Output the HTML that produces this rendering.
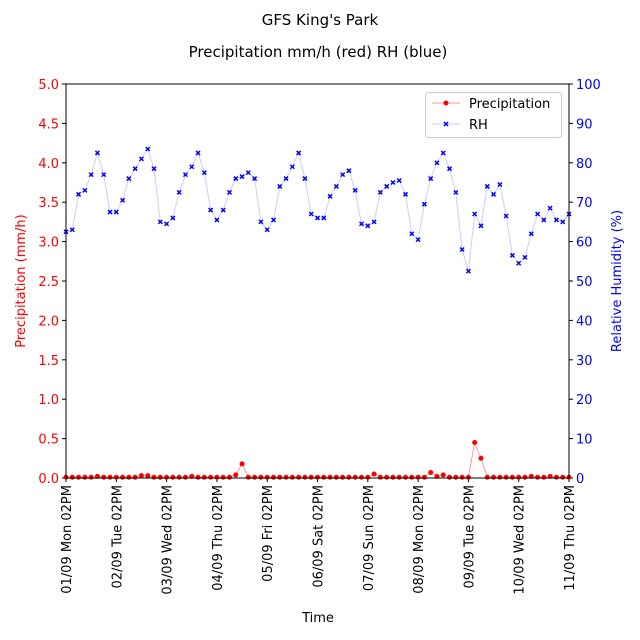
<!DOCTYPE html>
<html><head><meta charset="utf-8"><style>
html,body{margin:0;padding:0;background:#fff;width:640px;height:640px;overflow:hidden;font-family:"Liberation Sans","DejaVu Sans",sans-serif}
svg{display:block}
svg text{font-family:"DejaVu Sans","Liberation Sans",sans-serif}
</style></head><body>
<svg id="c" width="640" height="640" xmlns="http://www.w3.org/2000/svg"></svg>
<script>
const rhValues=[62.5,63,72,73,77,82.5,77,67.5,67.5,70.5,76,78.5,81,83.5,78.5,65,64.5,66,72.5,77,79,82.5,77.5,68,65.5,68,72.5,76,76.5,77.5,76,65,63,65.5,74,76,79,82.5,76,67,66,66,71.5,74,77,78,73,64.5,64,65,72.5,74,75,75.5,72,62,60.5,69.5,76,80,82.5,78.5,72.5,58,52.5,67,64,74,72,74.5,66.5,56.5,54.5,56,62,67,65.5,68.5,65.5,65,67];
const precipValues=[0.01,0.01,0.01,0.01,0.01,0.02,0.01,0.01,0.01,0.01,0.01,0.01,0.03,0.03,0.01,0.01,0.01,0.01,0.01,0.01,0.02,0.01,0.01,0.01,0.01,0.01,0.01,0.04,0.18,0.01,0.01,0.01,0.01,0.01,0.01,0.01,0.01,0.01,0.01,0.01,0.01,0.01,0.01,0.01,0.01,0.01,0.01,0.01,0.01,0.05,0.01,0.01,0.01,0.01,0.01,0.01,0.01,0.01,0.07,0.02,0.04,0.01,0.01,0.01,0.01,0.45,0.25,0.01,0.01,0.01,0.01,0.01,0.01,0.01,0.02,0.01,0.01,0.02,0.01,0.01,0.01];
const xTickLabels=["01/09 Mon 02PM","02/09 Tue 02PM","03/09 Wed 02PM","04/09 Thu 02PM","05/09 Fri 02PM","06/09 Sat 02PM","07/09 Sun 02PM","08/09 Mon 02PM","09/09 Tue 02PM","10/09 Wed 02PM","11/09 Thu 02PM"];
const leftTicks=[0,0.5,1,1.5,2,2.5,3,3.5,4,4.5,5];
const rightTicks=[0,10,20,30,40,50,60,70,80,90,100];
const L=66,R=569,T=84,B=478,N=80;
const svg=document.getElementById('c');const NS='http://www.w3.org/2000/svg';
function el(t,a,txt){const e=document.createElementNS(NS,t);for(const k in a)e.setAttribute(k,a[k]);if(txt!==undefined)e.textContent=txt;svg.appendChild(e);return e;}
const x=i=>L+(R-L)*i/N, yl=v=>B-(B-T)*v/5, yr=v=>B-(B-T)*v/100;
let e;
e=el('text',{x:320,y:25,'text-anchor':'middle','font-size':15},"GFS King's Park");

e=el('text',{x:318,y:57,'text-anchor':'middle','font-size':15},"Precipitation mm/h (red) RH (blue)");

leftTicks.forEach(v=>{const y=yl(v);el('line',{x1:L-4,x2:L,y1:y,y2:y,stroke:'#000'});
 e=el('text',{x:L-7,y:y+5,'text-anchor':'end','font-size':13,fill:'red'},v.toFixed(1));
 });
rightTicks.forEach(v=>{const y=yr(v);el('line',{x1:R,x2:R+4,y1:y,y2:y,stroke:'#000'});
 e=el('text',{x:R+7,y:y+5,'font-size':13,fill:'blue'},v);
 });
xTickLabels.forEach((s,i)=>{const xx=L+(R-L)*i/10;el('line',{x1:xx,x2:xx,y1:B,y2:B+4,stroke:'#000'});
 e=el('text',{transform:`translate(${xx+5},${B+7}) rotate(-90)`,'text-anchor':'end','font-size':13},s);
 });
e=el('text',{x:318,y:622,'text-anchor':'middle','font-size':13},'Time');

e=el('text',{transform:`translate(25,281) rotate(-90)`,'text-anchor':'middle','font-size':13,fill:'red'},'Precipitation (mm/h)');

e=el('text',{transform:`translate(621,281) rotate(-90)`,'text-anchor':'middle','font-size':13,fill:'blue'},'Relative Humidity (%)');

e=el('polyline',{points:rhValues.map((v,i)=>x(i)+','+yr(v)).join(' '),fill:'none',stroke:'blue','stroke-opacity':0.2,'stroke-width':1});

rhValues.forEach((v,i)=>{const cx=x(i),cy=yr(v);
 e=el('path',{d:`M${cx-2},${cy-2}L${cx+2},${cy+2}M${cx-2},${cy+2}L${cx+2},${cy-2}`,stroke:'blue','stroke-width':1.5});
 });
e=el('polyline',{points:precipValues.map((v,i)=>x(i)+','+yl(v)).join(' '),fill:'none',stroke:'red','stroke-opacity':0.4,'stroke-width':1});

precipValues.forEach((v,i)=>{
 e=el('circle',{cx:x(i),cy:yl(v),r:2.5,fill:'red'});
 });
e=el('rect',{x:L,y:T,width:R-L,height:B-T,fill:'none',stroke:'#000','stroke-width':1});

e=el('rect',{x:425.5,y:92.5,width:136,height:45,rx:3,fill:'#fff','fill-opacity':0.8,stroke:'#ccc'});

el('line',{x1:432,x2:460,y1:103,y2:103,stroke:'red','stroke-opacity':0.4});
el('circle',{cx:446,cy:103,r:2.5,fill:'red'});
e=el('text',{x:469,y:108,'font-size':13},'Precipitation');

el('line',{x1:432,x2:460,y1:124,y2:124,stroke:'blue','stroke-opacity':0.2});
el('path',{d:'M444,122L448,126M444,126L448,122',stroke:'blue','stroke-width':1.5});
e=el('text',{x:469,y:129,'font-size':13},'RH');

</script>
</body></html>
